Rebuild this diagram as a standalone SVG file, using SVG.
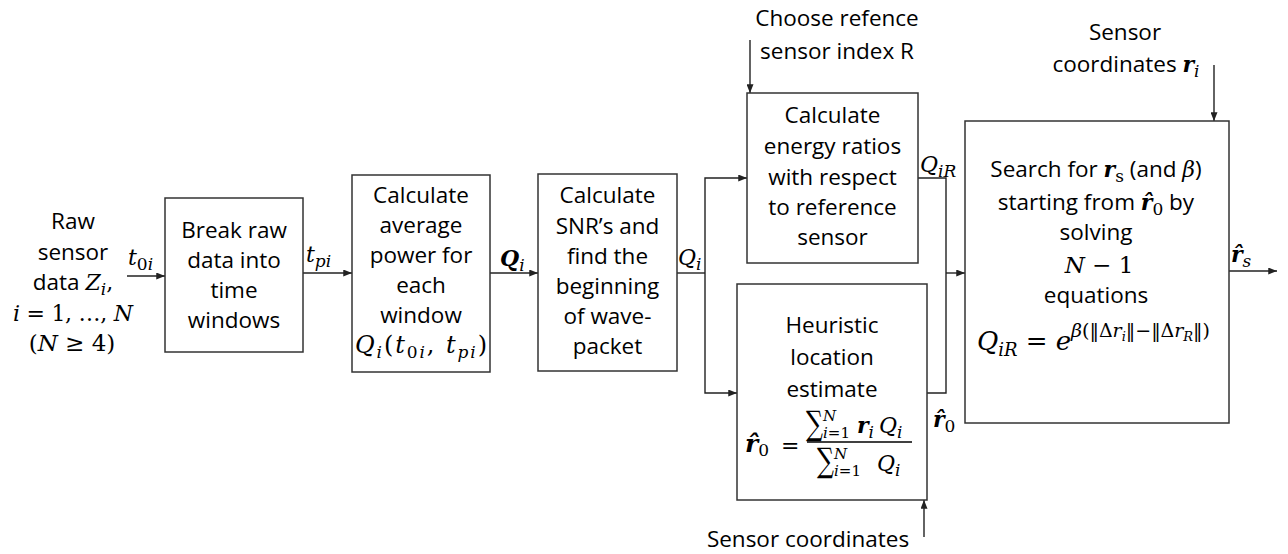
<svg xmlns="http://www.w3.org/2000/svg" width="1288" height="554" viewBox="0 0 1288 554">
  <defs>
    <marker id="ah" viewBox="0 0 10 8" markerWidth="9" markerHeight="7" refX="10" refY="4" orient="auto" markerUnits="userSpaceOnUse">
      <path d="M0,0 L10,4 L0,8 z" fill="#222"/>
    </marker>
    <style>
      .t { font-family: "Open Sans", "Liberation Sans", sans-serif; font-size: 22.5px; fill: #000; text-anchor: middle; }
      .m { font-family: "DejaVu Serif", "DejaVu Sans", serif; font-size: 22px; fill: #000; }
      .c { text-anchor: middle; }
      .mi { font-style: italic; }
      .mb { font-style: italic; font-weight: bold; }
      .s { font-size: 17px; }
      .ss { font-size: 13px; }
      .sum { font-size: 34px; }
      .lim { font-size: 15px; }
      .box { fill: #fff; stroke: #333; stroke-width: 1.5; }
      .wire { fill: none; stroke: #222; stroke-width: 1.4; }
      .arr { marker-end: url(#ah); }
    </style>
  </defs>
  <rect width="1288" height="554" fill="#fff"/>

  <!-- connectors -->
  <g id="connectors">
    <path class="wire arr" d="M127,276 H165"/>
    <path class="wire arr" d="M303,273 H352"/>
    <path class="wire arr" d="M490,273 H538"/>
    <path class="wire" d="M677,273 H705"/>
    <path class="wire arr" d="M705,273 V178 H747"/>
    <path class="wire arr" d="M705,273 V393 H737"/>
    <path class="wire" d="M918,178 H946 V273"/>
    <path class="wire" d="M927,393 H946 V273"/>
    <path class="wire arr" d="M946,273 H965"/>
    <path class="wire arr" d="M1229,271 H1277"/>
    <path class="wire arr" d="M750,40 V93"/>
    <path class="wire arr" d="M1214,65 V121"/>
    <path class="wire arr" d="M924,537 V500"/>
  </g>

  <!-- connector labels -->
  <g id="labels">
    <text class="m" x="128" y="265"><tspan class="mi">t</tspan><tspan class="s" dy="5">0</tspan><tspan class="s mi">i</tspan></text>
    <text class="m" x="306" y="262"><tspan class="mi">t</tspan><tspan class="s mi" dy="5">pi</tspan></text>
    <text class="m" x="500" y="266"><tspan class="mb">Q</tspan><tspan class="s mi" dy="5">i</tspan></text>
    <text class="m" x="678" y="265"><tspan class="mi">Q</tspan><tspan class="s mi" dy="5">i</tspan></text>
    <text class="m" x="920" y="172"><tspan class="mi">Q</tspan><tspan class="s mi" dy="5">iR</tspan></text>
    <text class="m" x="933" y="427"><tspan class="mb">r&#x302;</tspan><tspan class="s" dy="5">0</tspan></text>
    <text class="m" x="1231" y="262"><tspan class="mb">r&#x302;</tspan><tspan class="s mi" dy="5">s</tspan></text>
  </g>

  <!-- raw input description -->
  <g id="input">
    <text class="t" x="73" y="229">Raw</text>
    <text class="t" x="73" y="260">sensor</text>
    <text class="t" x="73" y="290">data <tspan class="m mi">Z</tspan><tspan class="m s mi" dy="5">i</tspan><tspan class="m" dy="-5">,</tspan></text>
    <text class="m c" x="73" y="321" textLength="120" lengthAdjust="spacing"><tspan class="mi">i</tspan> = 1, …, <tspan class="mi">N</tspan></text>
    <text class="m c" x="72" y="351" style="font-size:23px">(<tspan class="mi">N</tspan> ≥ 4)</text>
  </g>

  <g id="break-windows">
    <rect class="box" x="165" y="198" width="138" height="154"/>
    <text class="t" x="234" y="238">Break raw</text>
    <text class="t" x="234" y="268">data into</text>
    <text class="t" x="234" y="298">time</text>
    <text class="t" x="234" y="328">windows</text>
  </g>

  <g id="average-power">
    <rect class="box" x="352" y="175" width="138" height="197"/>
    <text class="t" x="421" y="203">Calculate</text>
    <text class="t" x="421" y="233">average</text>
    <text class="t" x="421" y="263">power for</text>
    <text class="t" x="421" y="293">each</text>
    <text class="t" x="421" y="323">window</text>
    <text class="m c" x="421" y="353" style="font-size:24px" textLength="132" lengthAdjust="spacing"><tspan class="mi">Q</tspan><tspan class="s mi" dy="5">i</tspan><tspan dy="-5">(</tspan><tspan class="mi">t</tspan><tspan class="s" dy="5">0</tspan><tspan class="s mi">i</tspan><tspan dy="-5">,</tspan><tspan class="mi"> t</tspan><tspan class="s mi" dy="5">pi</tspan><tspan dy="-5">)</tspan></text>
  </g>

  <g id="snr">
    <rect class="box" x="538" y="174" width="139" height="197"/>
    <text class="t" x="607.5" y="203">Calculate</text>
    <text class="t" x="607.5" y="234">SNR’s and</text>
    <text class="t" x="607.5" y="264">find the</text>
    <text class="t" x="607.5" y="294">beginning</text>
    <text class="t" x="607.5" y="324">of wave-</text>
    <text class="t" x="607.5" y="354">packet</text>
  </g>

  <g id="reference-choice">
    <text class="t" x="837" y="26">Choose refence</text>
    <text class="t" x="837" y="59">sensor index R</text>
  </g>

  <g id="energy-ratios">
    <rect class="box" x="747" y="93" width="171" height="170"/>
    <text class="t" x="832.5" y="123">Calculate</text>
    <text class="t" x="832.5" y="154">energy ratios</text>
    <text class="t" x="832.5" y="185">with respect</text>
    <text class="t" x="832.5" y="215">to reference</text>
    <text class="t" x="832.5" y="245">sensor</text>
  </g>

  <g id="heuristic">
    <rect class="box" x="737" y="284" width="190" height="216"/>
    <text class="t" x="832" y="333">Heuristic</text>
    <text class="t" x="832" y="365">location</text>
    <text class="t" x="832" y="397">estimate</text>
    <!-- r-hat-0 = (sum r_i Q_i) / (sum Q_i) -->
    <text class="m" x="745" y="452"><tspan class="mb" style="font-size:25px">r&#x302;</tspan><tspan class="s" dy="4">0</tspan></text>
    <text class="m" x="781" y="453">=</text>
    <text class="m sum" transform="translate(806,435) scale(0.7,1)">∑</text>
    <text class="m mi lim" x="823" y="421">N</text>
    <text class="m lim" x="823" y="438"><tspan class="mi">i</tspan>=1</text>
    <text class="m" x="857" y="433"><tspan class="mb">r</tspan><tspan class="s mi" dy="5">i</tspan></text>
    <text class="m" x="879" y="433"><tspan class="mi">Q</tspan><tspan class="s mi" dy="5">i</tspan></text>
    <path d="M807,442 H912" stroke="#000" stroke-width="1.4"/>
    <text class="m sum" transform="translate(817,472) scale(0.7,1)">∑</text>
    <text class="m mi lim" x="834" y="459">N</text>
    <text class="m lim" x="834" y="476"><tspan class="mi">i</tspan>=1</text>
    <text class="m" x="877" y="471"><tspan class="mi">Q</tspan><tspan class="s mi" dy="5">i</tspan></text>
  </g>

  <g id="sensor-coords-bottom">
    <text class="t" x="808" y="547">Sensor coordinates</text>
  </g>

  <g id="sensor-coords-top">
    <text class="t" x="1125" y="40">Sensor</text>
    <text class="t" x="1126" y="72">coordinates <tspan class="m mb">r</tspan><tspan class="m s mi" dy="5">i</tspan></text>
  </g>

  <g id="search">
    <rect class="box" x="965" y="121" width="264" height="302"/>
    <text class="t" x="1096" y="177">Search for <tspan class="m mb">r</tspan><tspan class="m s" dy="5">s</tspan><tspan dy="-5"> (and </tspan><tspan class="m mi">β</tspan>)</text>
    <text class="t" x="1096" y="210">starting from <tspan class="m mb">r&#x302;</tspan><tspan class="m s" dy="5">0</tspan><tspan dy="-5"> by</tspan></text>
    <text class="t" x="1096" y="240">solving</text>
    <text class="m c" x="1099" y="273" style="font-size:23px"><tspan class="mi">N</tspan> − 1</text>
    <text class="t" x="1096" y="303">equations</text>
    <text class="m" x="977" y="350" style="font-size:26px" textLength="233" lengthAdjust="spacing"><tspan class="mi">Q</tspan><tspan class="mi" dy="6" style="font-size:18px">iR</tspan><tspan dy="-6"> = </tspan><tspan class="mi">e</tspan><tspan dy="-13" style="font-size:19px"><tspan class="mi">β</tspan>(‖Δ<tspan class="mi">r</tspan><tspan class="ss mi" dy="4">i</tspan><tspan dy="-4">‖−‖Δ</tspan><tspan class="mi">r</tspan><tspan class="ss mi" dy="4">R</tspan><tspan dy="-4">‖)</tspan></tspan></text>
  </g>
</svg>
